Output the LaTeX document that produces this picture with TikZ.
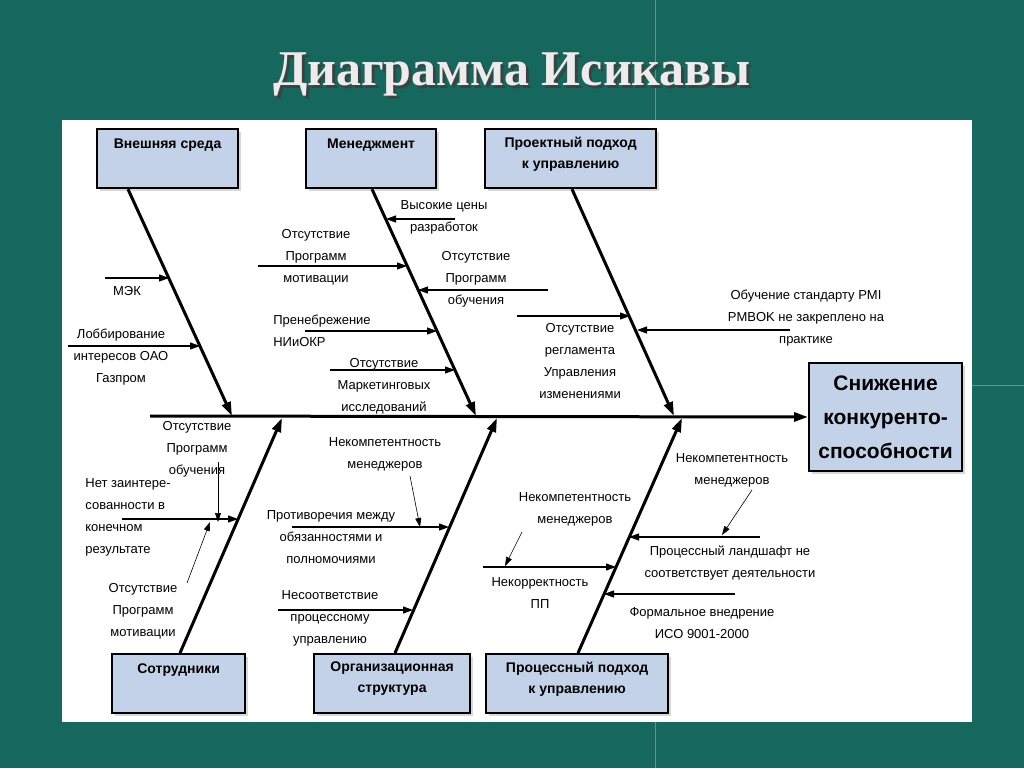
\documentclass[tikz,border=0pt]{standalone}
\usepackage{fontspec}
\setmainfont{Liberation Sans}
\newfontfamily\titlefont{Liberation Serif}
\usetikzlibrary{arrows.meta,shadows,positioning}

\definecolor{slidebg}{HTML}{16685F}
\definecolor{boxfill}{HTML}{C3D2E8}

\begin{document}
\begin{tikzpicture}[x=1pt,y=-1pt,
    cat/.style={draw,line width=2.2pt,fill=boxfill,font=\bfseries\fontsize{14}{21}\selectfont,align=center,
        anchor=north west,inner sep=3pt,drop shadow={shadow xshift=3pt,shadow yshift=-3pt,fill=gray!60}},
    bone/.style={line width=3pt,-{Triangle[length=14pt,width=9pt]}},
    twig/.style={line width=1.1pt,-{Triangle[length=10pt,width=7pt]}},
    thin/.style={line width=0.6pt,-{Triangle[length=9pt,width=6pt]}},
    lbl/.style={font=\fontsize{13}{22}\selectfont,align=center,inner sep=0pt}]
    \useasboundingbox (0,0) rectangle (1024,768);
    \fill[slidebg] (0,0) rectangle (1024,768);
    \draw[white!30!slidebg,line width=0.8pt] (655,0) -- (655,120) (655,722) -- (655,768) (972,385) -- (1024,385);
    \node[font=\titlefont\bfseries\fontsize{50}{54}\selectfont,text=gray!15] (title) at (512,76)
        {{\color{black!75}\rlap{\hspace{3pt}\raisebox{-3pt}{Диаграмма Исикавы}}}Диаграмма Исикавы};
    \fill[white] (62,120) rectangle (972,722);

    % head and spine
    \node[cat,font=\bfseries\fontsize{21}{34}\selectfont,minimum width=153pt,minimum height=108pt,anchor=west,inner sep=2pt]
        (effect) at (808,417) {Снижение\\конкуренто-\\способности};
    \coordinate (tail) at (150,416);
    \draw[bone] (tail) -- (effect.west);

    % category boxes
    \node[cat,minimum width=141pt,minimum height=59pt,text depth=30pt] (env) at (96,128) {Внешняя среда};
    \node[cat,minimum width=130pt,minimum height=59pt,text depth=30pt] (mgmt) at (305,128) {Менеджмент};
    \node[cat,minimum width=171pt,minimum height=59pt,text depth=12pt] (proj) at (484,128) {Проектный подход\\к управлению};
    \node[cat,minimum width=133pt,minimum height=59pt,text depth=30pt] (staff) at (111,653) {Сотрудники};
    \node[cat,minimum width=156pt,minimum height=59pt,text depth=12pt] (org) at (313,653) {Организационная\\структура};
    \node[cat,minimum width=182pt,minimum height=59pt,text depth=12pt] (proc) at (485,653) {Процессный подход\\к управлению};

    % bones
    \coordinate (envEnd) at (232,416);
    \coordinate (mgmtEnd) at (476,416);
    \coordinate (projEnd) at (674,416);
    \coordinate (staffEnd) at (282,418);
    \coordinate (orgEnd) at (497,418);
    \coordinate (procEnd) at (682,418);
    \draw[bone] (env.south west) ++(32,0) coordinate (envTop) -- (envEnd);
    \draw[bone] (mgmt.south west) ++(67,0) coordinate (mgmtTop) -- (mgmtEnd);
    \draw[bone] (proj.south west) ++(88,0) coordinate (projTop) -- (projEnd);
    \draw[bone] (staff.north west) ++(69,0) coordinate (staffBot) -- (staffEnd);
    \draw[bone] (org.north west) ++(82,0) coordinate (orgBot) -- (orgEnd);
    \draw[bone] (proc.north west) ++(93,0) coordinate (procBot) -- (procEnd);

    % Внешняя среда
    \coordinate (e1) at (105,278); \coordinate (e1b) at (169,278);
    \draw[twig] (e1) -- (e1b);
    \node[lbl] (mek) at (127,291) {МЭК};
    \coordinate (e2) at (68,346); \coordinate (e2b) at (200,346);
    \draw[twig] (e2) -- (e2b);
    \node[lbl] (lobby) at (121,357) {Лоббирование\\интересов ОАО\\Газпром};

    % Менеджмент
    \coordinate (m1) at (455,219); \coordinate (m1b) at (386,219);
    \draw[twig] (m1) -- (m1b);
    \node[lbl] (prices) at (444,217) {Высокие цены\\разработок};
    \coordinate (m2) at (258,266); \coordinate (m2b) at (407,266);
    \draw[twig] (m2) -- (m2b);
    \node[lbl] (motiv) at (316,257) {Отсутствие\\Программ\\мотивации};
    \coordinate (m3) at (548,290); \coordinate (m3b) at (418,290);
    \draw[twig] (m3) -- (m3b);
    \node[lbl] (train) at (476,279) {Отсутствие\\Программ\\обучения};
    \coordinate (m4) at (305,331); \coordinate (m4b) at (437,331);
    \draw[twig] (m4) -- (m4b);
    \node[lbl,align=left] (rnd) at (322,331) {Пренебрежение\\НИиОКР};
    \coordinate (m5) at (330,370); \coordinate (m5b) at (455,370);
    \draw[twig] (m5) -- (m5b);
    \node[lbl] (market) at (384,386) {Отсутствие\\Маркетинговых\\исследований};

    % Проектный подход
    \coordinate (p1) at (517,316); \coordinate (p1b) at (630,316);
    \draw[twig] (p1) -- (p1b);
    \node[lbl] (reglam) at (580,361) {Отсутствие\\регламента\\Управления\\изменениями};
    \coordinate (p2) at (790,330); \coordinate (p2b) at (637,330);
    \draw[twig] (p2) -- (p2b);
    \node[lbl] (pmi) at (806,318) {Обучение стандарту PMI\\PMBOK не закреплено на\\практике};

    % Сотрудники
    \node[lbl] (strain) at (197,449) {Отсутствие\\Программ\\обучения};
    \coordinate (s0) at (218,462); \coordinate (s0b) at (218,522);
    \draw[thin] (s0) -- (s0b);
    \coordinate (s1) at (122,519); \coordinate (s1b) at (238,519);
    \draw[twig] (s1) -- (s1b);
    \node[lbl,align=left] (interest) at (128,517) {Нет заинтере-\\сованности в\\конечном\\результате};
    \node[lbl] (smotiv) at (143,611) {Отсутствие\\Программ\\мотивации};
    \coordinate (s2) at (187,583); \coordinate (s2b) at (210,522);
    \draw[thin] (s2) -- (s2b);

    % Организационная структура
    \node[lbl] (oincomp) at (385,454) {Некомпетентность\\менеджеров};
    \coordinate (o0) at (410,476); \coordinate (o0b) at (420,527);
    \draw[thin] (o0) -- (o0b);
    \coordinate (o1) at (292,527); \coordinate (o1b) at (449,527);
    \draw[twig] (o1) -- (o1b);
    \node[lbl] (contra) at (331,537) {Противоречия между\\обязанностями и\\полномочиями};
    \coordinate (o2) at (278,610); \coordinate (o2b) at (413,610);
    \draw[twig] (o2) -- (o2b);
    \node[lbl] (mismatch) at (330,618) {Несоответствие\\процессному\\управлению};

    % Процессный подход
    \node[lbl] (rincomp) at (732,470) {Некомпетентность\\менеджеров};
    \coordinate (r0) at (752,490); \coordinate (r0b) at (722,535);
    \draw[thin] (r0) -- (r0b);
    \coordinate (r1) at (760,537); \coordinate (r1b) at (629,537);
    \draw[twig] (r1) -- (r1b);
    \node[lbl] (landscape) at (730,563) {Процессный ландшафт не\\соответствует деятельности};
    \node[lbl] (lincomp) at (575,509) {Некомпетентность\\менеджеров};
    \coordinate (r2) at (522,532); \coordinate (r2b) at (505,566);
    \draw[thin] (r2) -- (r2b);
    \coordinate (r3) at (483,567); \coordinate (r3b) at (616,567);
    \draw[twig] (r3) -- (r3b);
    \node[lbl] (pp) at (540,593) {Некорректность\\ПП};
    \coordinate (r4) at (735,594); \coordinate (r4b) at (604,594);
    \draw[twig] (r4) -- (r4b);
    \node[lbl] (iso) at (702,623) {Формальное внедрение\\ИСО 9001-2000};
\end{tikzpicture}
\end{document}
